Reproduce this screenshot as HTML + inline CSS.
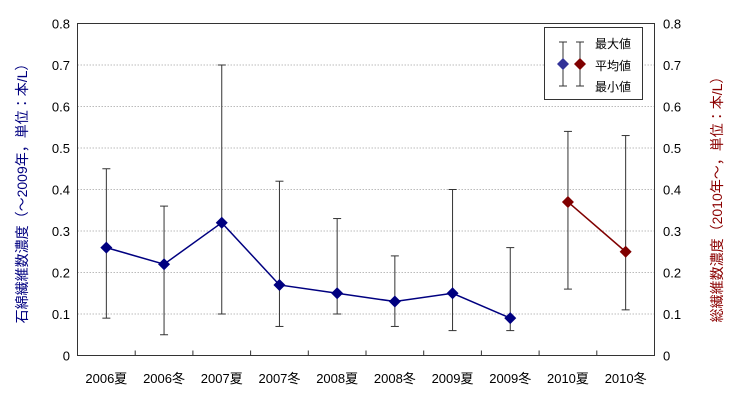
<!DOCTYPE html>
<html><head><meta charset="utf-8"><style>
html,body{margin:0;background:#fff;width:740px;height:400px;overflow:hidden;position:relative;}
svg text{font-family:"Liberation Sans","Noto Sans CJK JP",sans-serif;}
</style></head><body>
<svg id="chart" width="740" height="400" style="position:absolute;left:0;top:0" xmlns="http://www.w3.org/2000/svg"></svg>
<script>
const categories=["2006夏","2006冬","2007夏","2007冬","2008夏","2008冬","2009夏","2009冬","2010夏","2010冬"];
const asbestosMean=[0.26,0.22,0.32,0.17,0.15,0.13,0.15,0.09];
const asbestosMax=[0.45,0.36,0.70,0.42,0.33,0.24,0.40,0.26];
const asbestosMin=[0.09,0.05,0.10,0.07,0.10,0.07,0.06,0.06];
const totalMean=[0.37,0.25];
const totalMax=[0.54,0.53];
const totalMin=[0.16,0.11];
const yTicks=[0,0.1,0.2,0.3,0.4,0.5,0.6,0.7,0.8];
const yTickLabels=["0","0.1","0.2","0.3","0.4","0.5","0.6","0.7","0.8"];

const NS="http://www.w3.org/2000/svg";
const svg=document.getElementById('chart');
const L=77.5,R=654.5,T=23.5,B=355.5;
const bw=(R-L)/categories.length;
const x=i=>L+bw*(i+0.5);
const y=v=>B-(v/0.8)*(B-T);
function mk(tag,at){const e=document.createElementNS(NS,tag);for(const k in at)e.setAttribute(k,at[k]);svg.appendChild(e);return e;}

yTicks.forEach((t,i)=>{
  if(t>0&&t<0.8){const g=mk('line',{x1:L,x2:R,y1:y(t),y2:y(t),stroke:'#bbb','stroke-dasharray':'1.5,1.5','stroke-width':1});
  
  }
  const a=mk('text',{x:70,y:y(t)+5,'text-anchor':'end','font-size':13,fill:'#000'});a.textContent=yTickLabels[i];
  
  
  const b=mk('text',{x:663,y:y(t)+5,'text-anchor':'start','font-size':13,fill:'#000'});b.textContent=yTickLabels[i];
  
  
});
const frame=mk('rect',{x:L,y:T,width:R-L,height:B-T,fill:'none',stroke:'#333','stroke-width':1});


categories.forEach((c,i)=>{
  if(i>0){const tk=mk('line',{x1:L+bw*i,x2:L+bw*i,y1:B,y2:B-5,stroke:'#333'});
  
  }
  const t=mk('text',{x:x(i),y:383,'text-anchor':'middle','font-size':13,fill:'#000'});t.textContent=c;
  
  
});
function series(mean,max,min,off,color,name){
  mean.forEach((m,j)=>{const i=j+off;
    const g=mk('g',{});
    
    
    [[x(i),y(max[j]),x(i),y(min[j])],[x(i)-4,y(max[j]),x(i)+4,y(max[j])],[x(i)-4,y(min[j]),x(i)+4,y(min[j])]].forEach(a=>{
      const l=document.createElementNS(NS,'line');l.setAttribute('x1',a[0]);l.setAttribute('y1',a[1]);l.setAttribute('x2',a[2]);l.setAttribute('y2',a[3]);l.setAttribute('stroke','#333');g.appendChild(l);});
  });
  const p=mk('polyline',{points:mean.map((m,j)=>x(j+off)+','+y(m)).join(' '),fill:'none',stroke:color,'stroke-width':1.5});
  
  
  mean.forEach((m,j)=>{const cx=x(j+off),cy=y(m);
    const d=mk('polygon',{points:`${cx},${cy-6} ${cx+6},${cy} ${cx},${cy+6} ${cx-6},${cy}`,fill:color});
    
    
  });
}
series(asbestosMean,asbestosMax,asbestosMin,0,'#000080','asbestos');
series(totalMean,totalMax,totalMin,8,'#800000','total-fiber');
</script>
<div style="position:absolute;left:544px;top:27px;width:99px;height:73px;border:1px solid #333;background:#fff;box-sizing:border-box;font-family:'Liberation Sans','Noto Sans CJK JP',sans-serif;font-size:12px;">
<svg width="50" height="73" style="position:absolute;left:0;top:0">
<g stroke="#333"><line x1="18" y1="14" x2="18" y2="58"/><line x1="14" y1="14" x2="22" y2="14"/><line x1="14" y1="58" x2="22" y2="58"/>
<line x1="35" y1="14" x2="35" y2="58"/><line x1="31" y1="14" x2="39" y2="14"/><line x1="31" y1="58" x2="39" y2="58"/></g>
<polygon points="18,30 24,36 18,42 12,36" fill="#333399"/><polygon points="35,30 41,36 35,42 29,36" fill="#800000"/>
</svg>
<div style="position:absolute;left:50px;top:7px">最大値</div>
<div style="position:absolute;left:50px;top:29px">平均値</div>
<div style="position:absolute;left:50px;top:50px">最小値</div>
</div>
<div style="position:absolute;left:22px;top:190px;transform:translate(-50%,-50%) rotate(-90deg);white-space:nowrap;color:#000080;font-size:14px;font-family:'Liberation Sans','Noto Sans CJK JP',sans-serif;">石綿繊維数濃度（～2009年，単位：本/L）</div>
<div style="position:absolute;left:717px;top:196px;transform:translate(-50%,-50%) rotate(-90deg);white-space:nowrap;color:#8B0000;font-size:14px;font-family:'Liberation Sans','Noto Sans CJK JP',sans-serif;">総繊維数濃度（2010年～，単位：本/L）</div>
</body></html>
